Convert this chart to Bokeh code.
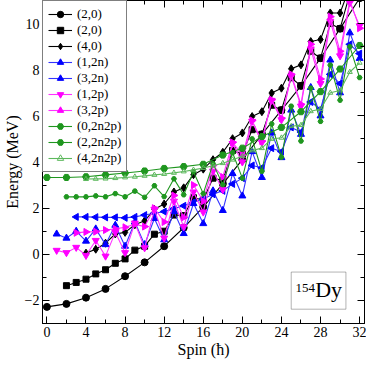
import math
from bokeh.plotting import figure
from bokeh.models import (Range1d, LinearAxis, SingleIntervalTicker, Legend,
                          LegendItem, Label, BoxAnnotation, CustomLabelingPolicy,
                          ColumnDataSource)
from bokeh.embed import file_html
from bokeh.resources import INLINE

# ---------------- data (spin, energy in MeV) ----------------
g20a_spin = [0, 2, 4, 6, 8, 10, 12, 14, 16, 18, 20, 22, 24, 26, 28, 30, 32]
g20a_e = [-2.28, -2.15, -1.88, -1.5, -0.95, -0.35, 0.35, 1.15, 2.05, 3.05,
          4.1, 5.2, 6.25, 7.3, 8.5, 9.78, 11.1]

g20b_spin = list(range(2, 32))
g20b_e = [-1.36, -1.22, -1.08, -0.85, -0.67, -0.39, -0.2, 0.18, 0.35, 0.87,
          1.0, 1.7, 1.68, 2.45, 2.35, 3.3, 3.2, 4.5, 4.35, 5.4,
          5.2, 6.46, 6.25, 7.65, 7.3, 8.8, 8.5, 10.0, 9.78, 11.3]

g40_spin = list(range(4, 32))
g40_e = [0.05, 0.22, 0.48, 0.88, 0.95, 1.28, 1.45, 1.95, 2.18, 2.7,
         2.88, 3.45, 3.69, 4.1, 4.42, 5.01, 5.26, 5.97, 6.18, 6.99,
         7.2, 8.04, 8.21, 9.22, 9.31, 10.46, 10.46, 11.6]

n12_spin = list(range(1, 33))
n12_e = [0.88, 0.7, 1.0, 0.57, 1.1, 0.42, 1.26, 0.35, 1.4, 0.42,
         1.55, 0.63, 1.85, 0.9, 2.2, 1.33, 2.75, 1.9, 3.5, 2.53,
         4.45, 3.33, 5.26, 4.19, 6.25, 5.2, 7.23, 6.0, 8.42, 7.0,
         9.6, 8.49]

n32_spin = list(range(3, 33))
n32_e = [1.62, 1.62, 1.61, 1.6, 1.6, 1.58, 1.62, 1.7, 1.78, 1.85,
         1.98, 2.1, 2.25, 2.4, 2.6, 2.75, 3.05, 3.3, 3.85, 3.75,
         4.6, 4.45, 5.5, 5.3, 6.6, 6.3, 7.8, 7.4, 9.1, 8.7]

p12_spin = list(range(1, 33))
p12_e = [0.17, 0.07, 0.3, -0.05, 0.6, -0.08, 0.95, 0.07, 1.35, 0.28,
         1.95, 0.7, 2.3, 1.19, 2.7, 1.83, 3.6, 2.8, 4.8, 4.0,
         5.76, 4.84, 6.67, 5.83, 7.72, 6.42, 8.9, 7.4, 10.1, 8.6,
         10.9, 9.9]

p32_spin = list(range(3, 33))
p32_e = [0.93, 0.97, 0.98, 1.05, 1.1, 1.17, 1.3, 1.2, 2.0, 1.4,
         2.55, 1.6, 3.0, 2.3, 3.85, 3.35, 4.85, 4.3, 5.8, 4.9,
         6.7, 5.9, 7.8, 6.5, 9.1, 7.6, 10.3, 8.8, 11.0, 9.8]

np0_spin = [0, 2, 4, 6, 8, 10, 12, 14, 16, 18, 20, 22, 24, 26, 28, 30, 32]
np0_e = [3.33, 3.33, 3.36, 3.44, 3.52, 3.61, 3.72, 3.8, 3.9, 4.3,
         4.6, 5.1, 5.5, 6.18, 7.05, 8.03, 9.05]

np2_spin = list(range(2, 33))
np2_e = [2.49, 2.49, 2.49, 2.53, 2.49, 2.63, 2.49, 2.74, 2.47, 2.97,
         2.5, 3.27, 2.58, 3.58, 2.63, 3.93, 3.02, 4.4, 3.3, 5.0,
         3.6, 5.65, 4.21, 6.42, 4.91, 7.2, 5.76, 8.2, 6.68, 9.0,
         7.66]

np4_spin = list(range(4, 33))
np4_e = [3.26, 3.27, 3.28, 3.3, 3.33, 3.36, 3.4, 3.44, 3.48, 3.53,
         3.59, 3.66, 3.74, 3.84, 3.95, 4.1, 4.25, 4.5, 4.6, 5.0,
         5.05, 5.55, 5.6, 6.2, 6.3, 7.0, 7.1, 7.9, 8.3]

x_ticks_interval = 4
y_ticks_interval = 2

# ---------------- figure ----------------
FONT = "Liberation Serif"
p = figure(width=366, height=360, x_range=Range1d(-0.45, 32.5),
           y_range=Range1d(-3, 11), output_backend="svg",
           toolbar_location=None, min_border_left=31, min_border_right=2,
           min_border_top=0, min_border_bottom=35)
p.xgrid.visible = False
p.ygrid.visible = False
p.outline_line_color = "black"
p.outline_line_alpha = 1
p.outline_line_width = 1
p.background_fill_color = "white"

no_labels = CustomLabelingPolicy(code="""
const all = [...indices]
for (const i of all) indices.unset(i)
""")


def style_axis(ax, show_labels=True):
    ax.major_tick_in = 7
    ax.major_tick_out = 0
    ax.minor_tick_in = 4
    ax.minor_tick_out = 0
    ax.axis_line_color = "black"
    ax.major_tick_line_color = "black"
    ax.minor_tick_line_color = "black"
    ax.major_label_text_font = FONT
    ax.major_label_text_color = "black"
    if show_labels:
        ax.major_label_text_font_size = "14px"
        ax.major_label_standoff = 3
    else:
        ax.major_label_text_font_size = "0px"
        ax.major_label_standoff = 0
        ax.major_label_policy = no_labels
    ax.axis_label_text_font = FONT
    ax.axis_label_text_font_size = "16px"
    ax.axis_label_text_font_style = "normal"
    ax.axis_label_text_color = "black"
    ax.axis_label_standoff = 1


p.xaxis.ticker = SingleIntervalTicker(interval=x_ticks_interval, num_minor_ticks=2)
p.yaxis.ticker = SingleIntervalTicker(interval=y_ticks_interval, num_minor_ticks=2)
p.xaxis.axis_label = "Spin (ħ)"
p.yaxis.axis_label = "Energy (MeV)"
style_axis(p.xaxis[0])
style_axis(p.yaxis[0])

top_ax = LinearAxis(ticker=SingleIntervalTicker(interval=x_ticks_interval, num_minor_ticks=2))
right_ax = LinearAxis(ticker=SingleIntervalTicker(interval=y_ticks_interval, num_minor_ticks=2))
style_axis(top_ax, False)
style_axis(right_ax, False)
p.add_layout(top_ax, "above")
p.add_layout(right_ax, "right")

GREEN = "#1f961f"
LGREEN = "#5cb85c"
series = [
    ("(2,0)", g20a_spin, g20a_e, "black", "black", "circle", 7, 0.0, 1.0),
    ("(2,0)", g20b_spin, g20b_e, "black", "black", "square", 6, 0.0, 1.0),
    ("(4,0)", g40_spin, g40_e, "black", "black", "diamond", 8, 0.0, 1.0),
    ("(1,2n)", n12_spin, n12_e, "#3333ff", "#0000ff", "triangle", 7, 0.0, 1.0),
    ("(3,2n)", n32_spin, n32_e, "#3333ff", "#0000ff", "triangle", 7, math.pi / 2, 1.0),
    ("(1,2p)", p12_spin, p12_e, "#ff33ff", "#ff00ff", "inverted_triangle", 7, 0.0, 1.0),
    ("(3,2p)", p32_spin, p32_e, "#ff33ff", "#ff00ff", "triangle", 7, -math.pi / 2, 1.0),
    ("(0,2n2p)", np0_spin, np0_e, GREEN, GREEN, "hex", 7, 0.0, 1.0),
    ("(2,2n2p)", np2_spin, np2_e, GREEN, GREEN, "hex", 5, 0.0, 1.0),
    ("(4,2n2p)", np4_spin, np4_e, LGREEN, LGREEN, "triangle", 5, 0.0, 0.0),
]

items = []
for label, xs, ys, lc, mc, marker, size, ang, falpha in series:
    src = ColumnDataSource(dict(x=xs, y=ys, a=[ang] * len(xs)))
    lr = p.line("x", "y", source=src, line_color=lc, line_width=1.1)
    sr = p.scatter("x", "y", source=src, marker=marker, size=size, angle="a",
                   angle_units="rad", fill_color=mc, fill_alpha=falpha,
                   line_color=mc, line_width=1)
    items.append(LegendItem(label=label, renderers=[lr, sr], index=0))

legend = Legend(items=items, location="top_left")
legend.margin = 0
legend.padding = 5
legend.spacing = 0
legend.glyph_height = 16
legend.label_height = 16
legend.glyph_width = 24
legend.label_standoff = 5
legend.label_text_font = FONT
legend.label_text_font_size = "13px"
legend.label_text_color = "black"
legend.border_line_color = "black"
legend.border_line_width = 1
legend.background_fill_alpha = 1
p.add_layout(legend)

box = BoxAnnotation(left=25.0, right=30.6, bottom=-2.38, top=-0.77,
                    fill_color="white", fill_alpha=1, line_color="black",
                    line_width=1)
p.add_layout(box)
p.add_layout(Label(x=25.45, y=-1.62, text="154", text_font=FONT,
                   text_font_size="13px", text_color="black"))
p.add_layout(Label(x=27.45, y=-2.05, text="Dy", text_font=FONT,
                   text_font_size="22px", text_color="black"))

open("out.html", "w").write(file_html(p, INLINE))
